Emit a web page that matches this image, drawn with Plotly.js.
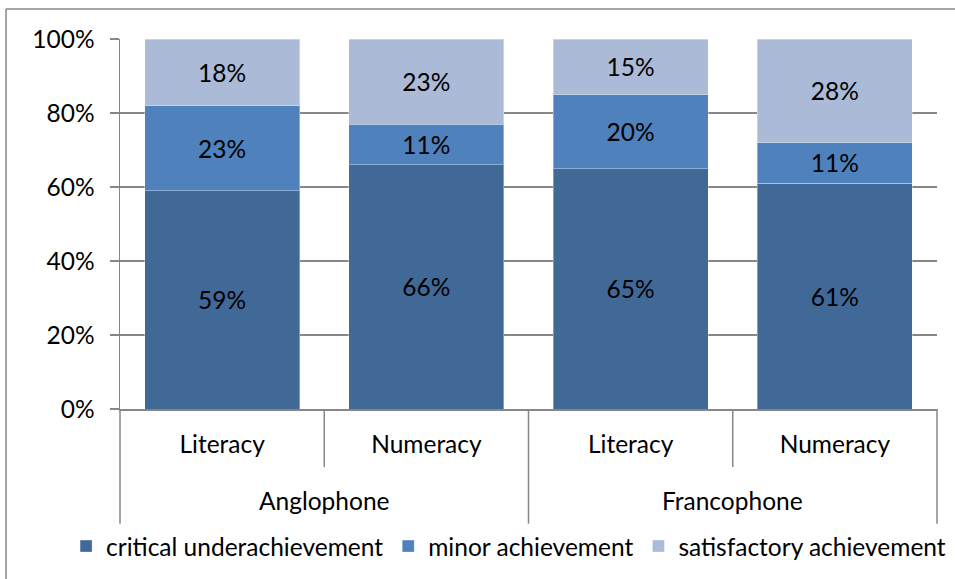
<!DOCTYPE html>
<html>
<head>
<meta charset="utf-8">
<script src="https://cdn.plot.ly/plotly-3.0.1.min.js"></script>
<style>html,body{margin:0;padding:0;background:#fff;}#chart{width:955px;height:579px;}</style>
</head>
<body>
<div id="chart"></div>
<script>
// ---- data ----
var groups = ["Anglophone", "Anglophone", "Francophone", "Francophone"];
var subjects = ["Literacy", "Numeracy", "Literacy", "Numeracy"];
var seriesNames = ["critical underachievement", "minor achievement", "satisfactory achievement"];
var critical = [59, 66, 65, 61];
var minor = [23, 11, 20, 11];
var satisfactory = [18, 23, 15, 28];
var yTicks = [0, 20, 40, 60, 80, 100];

// ---- styles ----
var FONT = "Lato, 'Liberation Sans', sans-serif";
var FS = 24.5;
var colors = ["#416998", "#4F81BD", "#AABAD7"];
var gridColor = "#878787";

var idx = subjects.map(function (_, i) { return i; });
var seriesVals = [critical, minor, satisfactory];

var traces = seriesVals.map(function (vals, s) {
  return {
    type: "bar",
    name: seriesNames[s],
    x: idx,
    y: vals,
    text: vals.map(function (v) { return v + "%"; }),
    textposition: "inside",
    insidetextanchor: "middle",
    textangle: 0,
    constraintext: "none",
    textfont: { family: FONT, size: FS, color: "#000" },
    marker: { color: colors[s], line: { color: "rgba(255,255,255,0.35)", width: 1 } },
    hoverinfo: "skip"
  };
});

// dividers in x-domain fractions derived from category count
var n = subjects.length;
var shapes = [];
for (var k = 0; k <= n; k++) {
  var isGroupEdge = (k === 0 || k === n || groups[k] !== groups[k - 1]);
  shapes.push({
    type: "line", xref: "x domain", yref: "paper",
    x0: k / n, x1: k / n, y0: 0, y1: isGroupEdge ? -0.31 : -0.157,
    line: { color: gridColor, width: 1.5 }
  });
}
// outer chart border (cropped on right/bottom)
shapes.push({ type: "line", xref: "paper", yref: "paper", x0: -0.1395, x1: -0.1395, y0: 1.081, y1: -0.5, line: { color: gridColor, width: 1.5 } });
shapes.push({ type: "line", xref: "paper", yref: "paper", x0: -0.1395, x1: 1.1, y0: 1.081, y1: 1.081, line: { color: gridColor, width: 1.5 } });

// group labels
var annotations = [];
var seen = {};
groups.forEach(function (g, i) {
  if (seen[g] !== undefined) return;
  var members = idx.filter(function (j) { return groups[j] === g; });
  var mid = members.reduce(function (a, b) { return a + b; }, 0) / members.length;
  seen[g] = mid;
  annotations.push({
    xref: "x", yref: "paper", x: mid, y: -0.248, yanchor: "middle",
    text: g, showarrow: false, font: { family: FONT, size: FS, color: "#000" }
  });
});

var layout = {
  width: 955, height: 579,
  margin: { l: 120, r: 18, t: 39, b: 169, pad: 0 },
  paper_bgcolor: "#fff", plot_bgcolor: "#fff",
  barmode: "stack",
  bargap: 0.24,
  font: { family: FONT, size: FS, color: "#000" },
  showlegend: true,
  legend: {
    orientation: "h", x: -0.066, xanchor: "left", y: -0.367, yanchor: "middle",
    font: { family: FONT, size: FS, color: "#000" }, traceorder: "normal",
    bgcolor: "rgba(0,0,0,0)"
  },
  xaxis: {
    range: [-0.5, n - 0.5],
    tickmode: "array", tickvals: idx, ticktext: subjects,
    ticks: "", showgrid: false, zeroline: false,
    showline: true, linecolor: gridColor, linewidth: 1.5,
    tickfont: { family: FONT, size: FS, color: "#000" },
    ticklabelstandoff: 13, fixedrange: true
  },
  yaxis: {
    range: [0, 100], tickmode: "array", tickvals: yTicks,
    ticktext: yTicks.map(function (v) { return v + "%"; }),
    ticks: "outside", ticklen: 9, tickwidth: 1.5, tickcolor: gridColor,
    showgrid: true, gridcolor: gridColor, gridwidth: 1.3,
    zeroline: false, showline: true, linecolor: gridColor, linewidth: 1.5,
    tickfont: { family: FONT, size: FS, color: "#000" },
    ticklabelstandoff: 10, fixedrange: true
  },
  shapes: shapes,
  annotations: annotations
};

Plotly.newPlot("chart", traces, layout, { displayModeBar: false, staticPlot: true });
</script>
</body>
</html>
